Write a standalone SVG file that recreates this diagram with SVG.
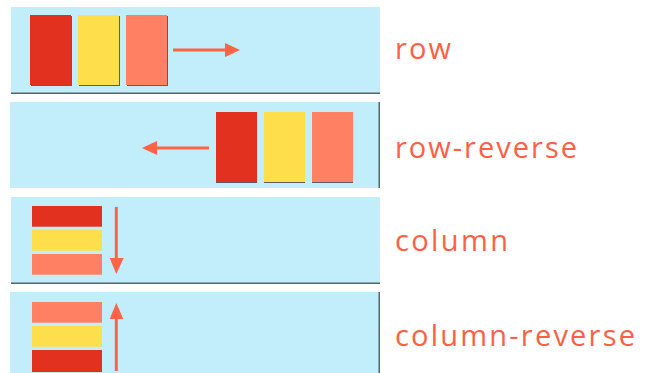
<svg xmlns="http://www.w3.org/2000/svg" width="654" height="373" viewBox="0 0 654 373">
<style>
.panel{fill:#C2EEFB}
.edge{fill:#59636B}
.r{fill:#E33120}
.y{fill:#FEDF4B}
.o{fill:#FF8062}
.sh{fill:#5A5F63}
.ar{stroke:#FF6347;stroke-width:3;fill:none}
.head{fill:#FF6347}
.lbl{font-family:"Open Sans","Lato",sans-serif;font-size:29px;font-weight:400;fill:#FF5F45}
</style>
<rect width="654" height="373" fill="#ffffff"/>
<g id="row">
<rect class="panel" x="11" y="7" width="369" height="86"/>
<rect class="edge" x="11" y="92.5" width="369" height="1.5"/>
<rect class="sh" x="31" y="16" width="41" height="70"/>
<rect class="r" x="30" y="15" width="41" height="70"/>
<rect class="sh" x="79" y="16" width="41" height="70"/>
<rect class="y" x="78" y="15" width="41" height="70"/>
<rect class="sh" x="127" y="16" width="41" height="70"/>
<rect class="o" x="126" y="15" width="41" height="70"/>
<text class="lbl" x="395" y="59" textLength="56" lengthAdjust="spacing">row</text>
</g>
<g id="row-reverse">
<rect class="panel" x="10" y="102" width="369" height="86"/>
<rect class="edge" x="378.5" y="102" width="1.5" height="86"/>
<rect class="sh" x="216" y="112" width="41" height="71"/>
<rect class="r" x="216" y="112" width="41" height="70"/>
<rect class="sh" x="264" y="112" width="41" height="71"/>
<rect class="y" x="264" y="112" width="41" height="70"/>
<rect class="sh" x="312" y="112" width="41" height="71"/>
<rect class="o" x="312" y="112" width="41" height="70"/>
<text class="lbl" x="395" y="158" textLength="182" lengthAdjust="spacing">row-reverse</text>
</g>
<g id="column">
<rect class="panel" x="11" y="197" width="369" height="86"/>
<rect class="edge" x="11" y="282.5" width="369" height="1.5"/>
<rect class="r" x="32" y="206" width="70" height="20.7"/>
<rect class="y" x="32" y="230" width="70" height="20.7"/>
<rect class="o" x="32" y="254" width="70" height="20.7"/>
<text class="lbl" x="395" y="251" textLength="113" lengthAdjust="spacing">column</text>
</g>
<g id="column-reverse">
<rect class="panel" x="10" y="292" width="369" height="81"/>
<rect class="edge" x="378.5" y="292" width="1.5" height="81"/>
<rect class="o" x="32" y="302" width="70" height="20.7"/>
<rect class="y" x="32" y="326" width="70" height="20.7"/>
<rect class="sh" x="32" y="350" width="70" height="22"/>
<rect class="r" x="32" y="350" width="70" height="21"/>
<text class="lbl" x="395" y="346" textLength="240" lengthAdjust="spacing">column-reverse</text>
</g>
<g id="connectors">
<line class="ar" x1="173" y1="50" x2="226" y2="50"/>
<polygon class="head" points="225,43 240,50 225,57"/>
<line class="ar" x1="209" y1="148" x2="156" y2="148"/>
<polygon class="head" points="157,141 142,148 157,155"/>
<line class="ar" x1="116.3" y1="207" x2="116.3" y2="259"/>
<polygon class="head" points="109.7,258 116.3,274 123.7,258"/>
<line class="ar" x1="116.3" y1="371" x2="116.3" y2="318"/>
<polygon class="head" points="109.7,319 116.3,303 123.3,319"/>
</g>
</svg>
